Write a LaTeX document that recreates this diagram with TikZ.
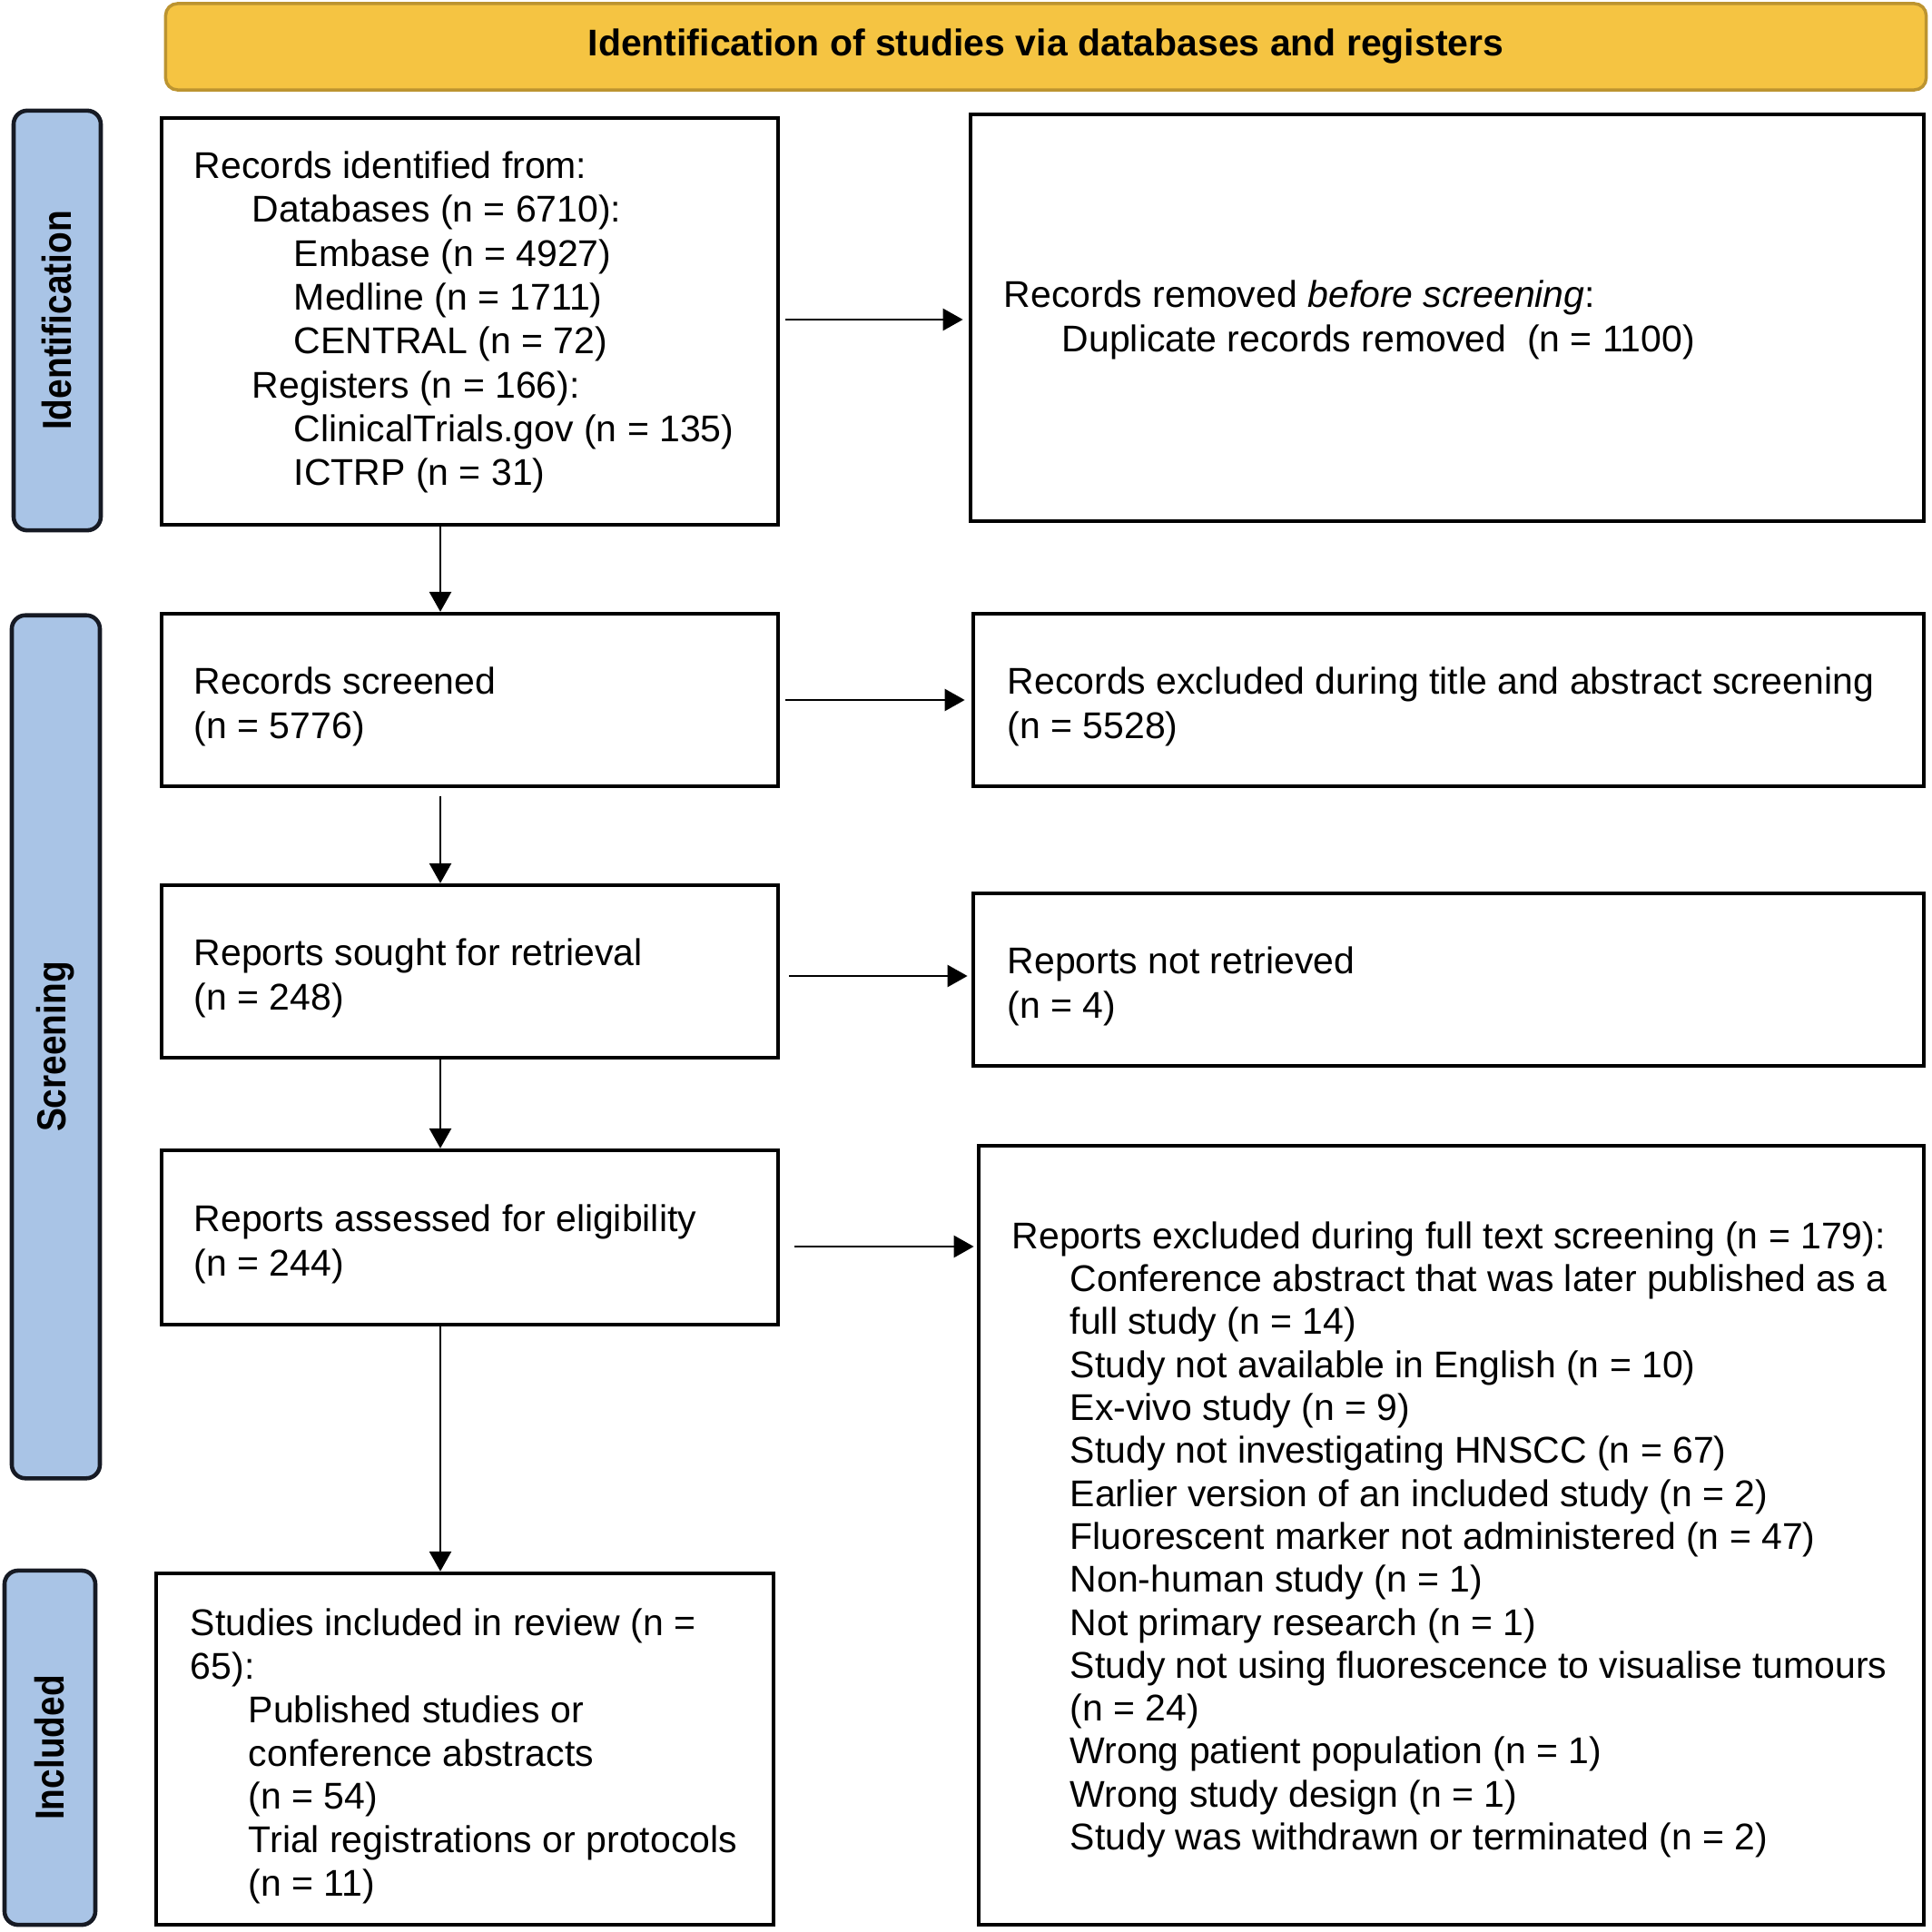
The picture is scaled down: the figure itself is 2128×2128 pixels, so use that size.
\documentclass[tikz,border=0pt]{standalone}
\usepackage{fontspec}
\usepackage{graphicx}
\setmainfont{Liberation Sans}
\usetikzlibrary{arrows.meta,calc}
\definecolor{bannerfill}{RGB}{245,196,66}
\definecolor{bannerdraw}{RGB}{188,148,48}
\definecolor{labelfill}{RGB}{169,196,230}
\definecolor{labeldraw}{RGB}{22,26,36}
\newcommand{\ia}{\hspace*{0.64cm}}
\newcommand{\ib}{\hspace*{1.10cm}}
\newcommand{\boxlines}[3][0cm]{\raisebox{-#1}[\height][\depth]{\makebox[#2][l]{\begin{tabular}{@{}l@{}}#3\end{tabular}}}}
\begin{document}
\begin{tikzpicture}[x=0.01cm,y=-0.01cm,
  txt/.style={font=\fontsize{11.65pt}{13.6pt}\selectfont},
  twoline/.style={font=\fontsize{11.65pt}{14.2pt}\selectfont},
  flowbox/.style={draw=black, line width=1.2pt, fill=white, inner sep=0pt, txt},
  banner/.style={draw=bannerdraw, fill=bannerfill, line width=1pt, rounded corners=0.13cm,
    font=\bfseries\fontsize{11.65pt}{13.6pt}\selectfont, inner sep=0pt},
  phase/.style={draw=labeldraw, fill=labelfill, line width=1.3pt, rounded corners=0.15cm,
    rotate=90, inner sep=0pt, font=\bfseries\fontsize{12.7pt}{14pt}\selectfont},
  arr/.style={line width=0.8pt, -{Triangle[length=0.22cm,width=0.24cm]}}
]
\useasboundingbox (0,0) rectangle (2128,2128);

% banner
\node[banner, minimum width=19.38cm, minimum height=0.95cm] (banner) at (1152,51.5)
  {Identification of studies via databases and registers};

% phase labels
\node[phase, minimum width=4.62cm, minimum height=0.96cm] (pid) at (63,353)
  {\scalebox{0.87}[1]{Identification}};
\node[phase, minimum width=9.50cm, minimum height=0.97cm] (pscr) at (61.5,1153)
  {\scalebox{0.87}[1]{Screening}};
\node[phase, minimum width=3.90cm, minimum height=1.00cm] (pinc) at (55,1925)
  {\scalebox{0.87}[1]{Included}};

% left column
\node[flowbox, minimum width=6.79cm, minimum height=4.48cm,
  font=\fontsize{11.65pt}{13.75pt}\selectfont] (ident) at (517.5,354)
  {\boxlines[0.02cm]{6.07cm}{Records identified from:\\
  \ia Databases (n = 6710):\\
  \ib Embase (n = 4927)\\
  \ib Medline (n = 1711)\\
  \ib CENTRAL (n = 72)\\
  \ia Registers (n = 166):\\
  \ib ClinicalTrials.gov (n = 135)\\
  \ib ICTRP (n = 31)}};

\node[flowbox, twoline, minimum width=6.79cm, minimum height=1.90cm] (screened) at (517.5,771)
  {\boxlines[0.08cm]{6.07cm}{Records screened\\(n = 5776)}};

\node[flowbox, twoline, minimum width=6.79cm, minimum height=1.90cm] (sought) at (517.5,1070)
  {\boxlines[0.08cm]{6.07cm}{Reports sought for retrieval\\(n = 248)}};

\node[flowbox, twoline, minimum width=6.79cm, minimum height=1.92cm] (assess) at (517.5,1363)
  {\boxlines[0.08cm]{6.07cm}{Reports assessed for eligibility\\(n = 244)}};

\node[flowbox, minimum width=6.80cm, minimum height=3.87cm] (included) at (512,1926.5)
  {\boxlines[0.09cm]{6.04cm}{Studies included in review (n =\\
  65):\\
  \ia Published studies or\\
  \ia conference abstracts\\
  \ia (n = 54)\\
  \ia Trial registrations or protocols\\
  \ia (n = 11)}};

% right column
\node[flowbox, twoline, minimum width=10.50cm, minimum height=4.48cm] (removed) at (1594,350)
  {\boxlines[0.03cm]{9.76cm}{Records removed \textit{before screening}:\\
  \ia Duplicate records removed\ \ (n = 1100)}};

\node[flowbox, twoline, minimum width=10.47cm, minimum height=1.90cm] (exclta) at (1595.5,771)
  {\boxlines[0.08cm]{9.71cm}{Records excluded during title and abstract screening\\(n = 5528)}};

\node[flowbox, twoline, minimum width=10.47cm, minimum height=1.90cm] (notret) at (1595.5,1079)
  {\boxlines[0.08cm]{9.71cm}{Reports not retrieved\\(n = 4)}};

\node[flowbox, minimum width=10.41cm, minimum height=8.58cm,
  font=\fontsize{11.65pt}{13.45pt}\selectfont] (exclft) at (1598.5,1691)
  {\boxlines[0.06cm]{9.67cm}{Reports excluded during full text screening (n = 179):\\
  \ia Conference abstract that was later published as a\\
  \ia full study (n = 14)\\
  \ia Study not available in English (n = 10)\\
  \ia Ex-vivo study (n = 9)\\
  \ia Study not investigating HNSCC (n = 67)\\
  \ia Earlier version of an included study (n = 2)\\
  \ia Fluorescent marker not administered (n = 47)\\
  \ia Non-human study (n = 1)\\
  \ia Not primary research (n = 1)\\
  \ia Study not using fluorescence to visualise tumours\\
  \ia (n = 24)\\
  \ia Wrong patient population (n = 1)\\
  \ia Wrong study design (n = 1)\\
  \ia Study was withdrawn or terminated (n = 2)}};

% connector helpers
\coordinate (colx) at (485,0);
\coordinate (r1) at (0,352);
\coordinate (r2) at (0,771);
\coordinate (r3) at (0,1075);
\coordinate (r4) at (0,1373);

% vertical arrows
\draw[arr] (ident.south -| colx) -- (screened.north -| colx);
\draw[arr, shorten <=0.09cm] (screened.south -| colx) -- (sought.north -| colx);
\draw[arr] (sought.south -| colx) -- (assess.north -| colx);
\draw[arr] (assess.south -| colx) -- (included.north -| colx);

% horizontal arrows
\draw[arr, shorten <=0.06cm, shorten >=0.06cm] (ident.east |- r1) -- (removed.west |- r1);
\draw[arr, shorten <=0.06cm, shorten >=0.07cm] (screened.east |- r2) -- (exclta.west |- r2);
\draw[arr, shorten <=0.10cm, shorten >=0.04cm] (sought.east |- r3) -- (notret.west |- r3);
\draw[arr, shorten <=0.16cm, shorten >=0.03cm] (assess.east |- r4) -- (exclft.west |- r4);
\end{tikzpicture}
\end{document}
